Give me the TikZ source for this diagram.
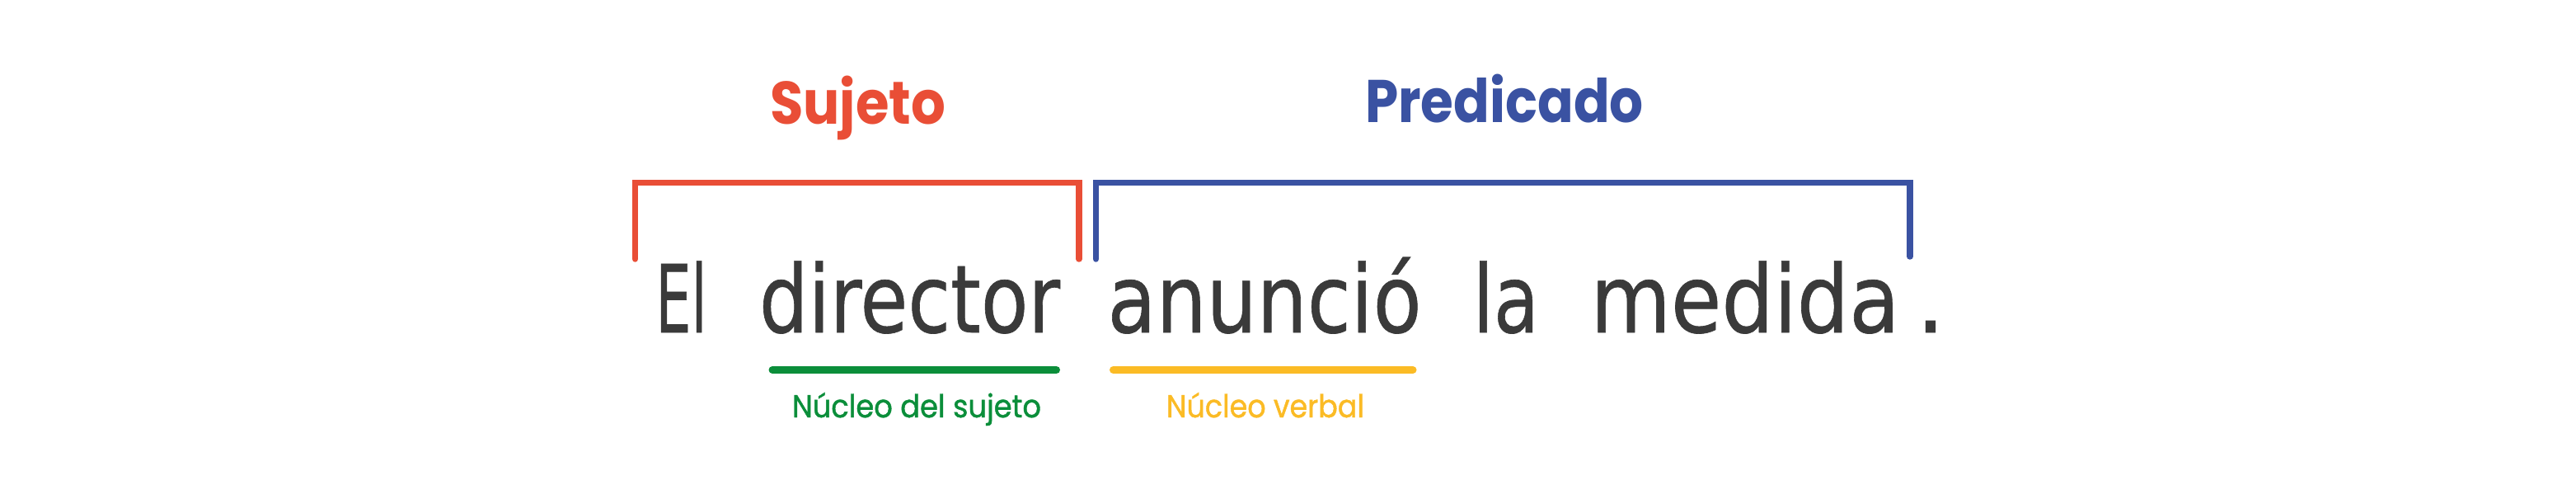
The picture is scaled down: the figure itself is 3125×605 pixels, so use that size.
\documentclass[tikz,border=0pt]{standalone}
\usepackage{fontspec}
\usepackage{graphicx}
\setmainfont{DejaVu Sans}[FakeBold=0.6]
\newfontfamily\labfont{Poppins}
\newfontfamily\labmed{Poppins}[FakeBold=1.2]
\definecolor{sujred}{HTML}{E94E36}
\definecolor{predblue}{HTML}{3A52A2}
\definecolor{nucgreen}{HTML}{0B8E3A}
\definecolor{nucyellow}{HTML}{FBBB25}
\definecolor{txtgray}{HTML}{3A3A3A}
\makeatletter
\newcommand\fitto[2]{\setbox0=\hbox{#2}\edef\fitratio{\strip@pt\dimexpr\dimexpr#1\relax*65536/\wd0\relax}\scalebox{\fitratio}[1]{\box0}}
\makeatother
\tikzset{
  word/.style={anchor=base, inner sep=0pt, outer sep=0pt, text=txtgray, font=\fontsize{114bp}{120bp}\selectfont},
  head/.style={anchor=base, inner sep=0pt, outer sep=0pt, font=\labfont\bfseries\fontsize{73bp}{80bp}\selectfont},
  sublab/.style={anchor=base, inner sep=0pt, outer sep=0pt, font=\labmed\fontsize{38.5bp}{44bp}\selectfont},
  bracket/.style={line width=7.5bp, line cap=round, line join=miter},
  underline/.style={line width=9bp, line cap=round}
}
\begin{document}
\begin{tikzpicture}[x=1bp,y=-1bp]
\useasboundingbox (0,0) rectangle (3125,605);
% headings
\node[head, text=sujred] (suj) at (1040.5,151) {\fitto{213bp}{Sujeto}};
\node[head, text=predblue] (pred) at (1825,149) {\fitto{338bp}{Predicado}};
% sentence
\node[word] (w1) at (826.5,403) {\fitto{62bp}{El}};
\node[word] (w2) at (1103.5,403) {\fitto{365bp}{director}};
\node[word] (w3) at (1534,403) {\fitto{381bp}{anunció}};
\node[word] (w4) at (1827,403) {\fitto{80bp}{la}};
\node[word] (w5) at (2117,403) {\fitto{375bp}{medida}};
\node[word] (w6) at (2342,403) {.};
% bracket corners
\coordinate (sa) at (770.5,314);
\coordinate (sb) at (770.5,221.5);
\coordinate (sc) at (1309,221.5);
\coordinate (sd) at (1309,314);
\coordinate (pa) at (1329.5,314);
\coordinate (pb) at (1329.5,221.5);
\coordinate (pc) at (2317,221.5);
\coordinate (pd) at (2317,311);
\draw[bracket, sujred] (sa) -- (sb) -- (sc) -- (sd);
\draw[bracket, predblue] (pa) -- (pb) -- (pc) -- (pd);
% underlines
\coordinate (ga) at (937,448.5);
\coordinate (gb) at (1281.5,448.5);
\coordinate (ya) at (1350.5,448.5);
\coordinate (yb) at (1714,448.5);
\draw[underline, nucgreen] (ga) -- (gb);
\draw[underline, nucyellow] (ya) -- (yb);
% sub labels
\node[sublab, text=nucgreen] (ns) at (1112,506) {\fitto{302bp}{Núcleo del sujeto}};
\node[sublab, text=nucyellow] (nv) at (1535,506) {\fitto{240bp}{Núcleo verbal}};
\end{tikzpicture}
\end{document}
